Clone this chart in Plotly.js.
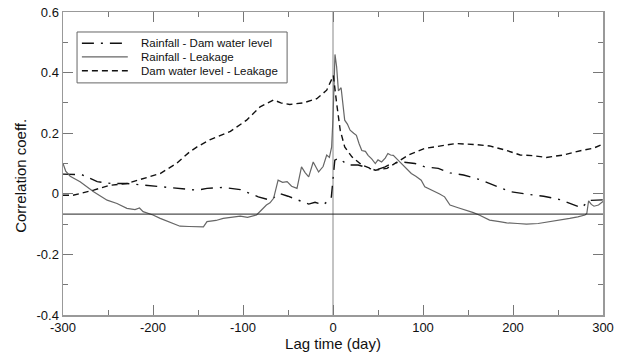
<!DOCTYPE html>
<html>
<head>
<meta charset="utf-8">
<script src="https://cdn.plot.ly/plotly-3.0.1.min.js"></script>
<style>html,body{margin:0;padding:0;background:#fff;}#chart{width:624px;height:358px;}</style>
</head>
<body>
<div id="chart"></div>
<script>
// Rainfall - Dam water level (dash-dot)
const rdLag = [-300,-279,-262,-246,-229,-211,-192,-174,-151,-140,-122,-103,-89,-83,-70,-59,-50,-40,-27,-20,-11,-2,0,2,6,17,28,39,47,58,65,76,91,102,117,130,145,163,182,197,215,234,252,269,276,285,300];
const rdVal = [0.065,0.063,0.040,0.034,0.034,0.029,0.023,0.018,0.012,0.018,0.021,0.014,-0.004,-0.010,-0.021,0.001,-0.008,-0.019,-0.034,-0.028,-0.037,-0.015,0.060,0.111,0.117,0.095,0.095,0.084,0.078,0.089,0.100,0.105,0.100,0.089,0.084,0.069,0.062,0.047,0.025,0.007,-0.001,-0.008,-0.019,-0.037,-0.046,-0.022,-0.020];

// Rainfall - Leakage (solid)
const rlLag = [-300,-297,-292,-281,-266,-251,-240,-229,-220,-215,-211,-200,-192,-180,-170,-160,-152,-144,-140,-130,-122,-112,-103,-95,-85,-80,-74,-70,-66,-61,-56,-51,-46,-40,-35,-31,-27,-22,-16,-11,-7,-4,-1.5,0,1,2.2,4,6,9,11,13,16,19,23,26,29,32,36,39,43,47,50,54,58,61,64,67,72,76,82,87,92,98,102,108,113,118,124,130,139,148,156,163,174,185,193,205,215,228,241,252,263,272,280,282,284,287,290,295,300];
const rlVal = [0.100,0.075,0.058,0.040,0.007,-0.021,-0.032,-0.048,-0.052,-0.047,-0.059,-0.070,-0.081,-0.094,-0.107,-0.108,-0.109,-0.109,-0.092,-0.088,-0.081,-0.078,-0.074,-0.078,-0.070,-0.055,-0.037,-0.030,-0.015,0.045,0.038,0.040,0.025,0.018,0.089,0.070,0.056,0.105,0.072,0.090,0.128,0.120,0.155,0.250,0.380,0.460,0.420,0.340,0.350,0.300,0.243,0.230,0.210,0.200,0.193,0.165,0.143,0.140,0.127,0.115,0.100,0.112,0.105,0.118,0.133,0.128,0.127,0.112,0.100,0.085,0.067,0.058,0.045,0.023,0.015,0.007,0.000,-0.010,-0.037,-0.046,-0.054,-0.062,-0.071,-0.087,-0.092,-0.096,-0.098,-0.100,-0.098,-0.092,-0.088,-0.081,-0.076,-0.070,-0.065,-0.023,-0.035,-0.041,-0.037,-0.025];

// Dam water level - Leakage (dashed)
const dlLag = [-300,-289,-266,-248,-229,-211,-192,-174,-159,-151,-137,-114,-96,-81,-66,-58,-48,-33,-18,-7,-1.5,0.4,4,8,13,21,32,47,60,69,84,102,121,137,160,174,193,208,222,237,256,276,289,300];
const dlVal = [-0.005,-0.005,0.012,0.028,0.034,0.050,0.067,0.100,0.139,0.155,0.178,0.206,0.243,0.287,0.310,0.300,0.295,0.300,0.314,0.342,0.375,0.390,0.300,0.210,0.155,0.122,0.095,0.078,0.084,0.100,0.128,0.150,0.160,0.166,0.162,0.158,0.143,0.128,0.126,0.120,0.128,0.143,0.150,0.164];

const seriesNames = ['Rainfall - Dam water level','Rainfall - Leakage','Dam water level - Leakage'];
const xTickVals = [-300,-200,-100,0,100,200,300];
const yTickVals = [-0.4,-0.2,0,0.2,0.4,0.6];
const yTickText = ['-0.4','-0.2','0','0.2','0.4','0.6'];
const refLevel = -0.067;

const FONT = 'Liberation Sans, Arial, sans-serif';
const lineStyles = [
  {color: '#111', width: 1.4, dash: '12px,7px,2px,7px'},
  {color: '#666', width: 1.2, dash: 'solid'},
  {color: '#111', width: 1.4, dash: '6px,4px'}
];
const xs = [rdLag, rlLag, dlLag], ys = [rdVal, rlVal, dlVal];

const traces = seriesNames.map((n, i) => ({
  x: xs[i], y: ys[i], name: n, mode: 'lines', line: lineStyles[i], showlegend: false
}));

const axisCommon = {
  showgrid: false, zeroline: false, showline: true, linecolor: '#999', linewidth: 1.5,
  mirror: 'ticks', ticks: 'inside', ticklen: 10, tickwidth: 1, tickcolor: '#777',
  tickfont: {family: FONT, size: 13, color: '#111'}
};

// legend box (drawn in paper coordinates)
const legBox = {x0: 0.026, x1: 0.415, y0: 0.766, y1: 0.934};
const legRowY = [0.897, 0.852, 0.806];
const legLineX = [0.035, 0.120];
const legTextX = 0.141;

const shapes = [
  {type: 'line', xref: 'paper', x0: 0, x1: 1, yref: 'y', y0: refLevel, y1: refLevel,
   line: {color: '#222', width: 1}},
  {type: 'line', xref: 'x', x0: 0, x1: 0, yref: 'paper', y0: 0, y1: 1,
   line: {color: '#888', width: 1}, layer: 'below'},
  {type: 'rect', xref: 'paper', yref: 'paper', x0: legBox.x0, x1: legBox.x1, y0: legBox.y0, y1: legBox.y1,
   line: {color: '#666', width: 1}, fillcolor: '#fff', layer: 'above'}
];
const annotations = [
  {xref: 'paper', yref: 'paper', x: -0.078, y: 0.459, xanchor: 'center', yanchor: 'middle',
   textangle: -90, showarrow: false,
   text: 'Correlation coeff.', font: {family: FONT, size: 15, color: '#111'}}
];
seriesNames.forEach((n, i) => {
  shapes.push({type: 'line', xref: 'paper', yref: 'paper', x0: legLineX[0], x1: legLineX[1],
    y0: legRowY[i], y1: legRowY[i], line: lineStyles[i], layer: 'above'});
  annotations.push({xref: 'paper', yref: 'paper', x: legTextX, y: legRowY[i], xanchor: 'left',
    yanchor: 'middle', showarrow: false, text: n, font: {family: FONT, size: 11.5, color: '#111'}});
});

const layout = {
  width: 624, height: 358,
  margin: {l: 63, r: 21, t: 12, b: 43},
  paper_bgcolor: '#fff', plot_bgcolor: '#fff',
  showlegend: false,
  xaxis: Object.assign({}, axisCommon, {
    range: [-300, 300], tickvals: xTickVals, ticktext: xTickVals.map(String),
    minor: {dtick: 50, tick0: 0, ticks: 'inside', ticklen: 5, tickcolor: '#777'},
    title: {text: 'Lag time (day)', standoff: 1, font: {family: FONT, size: 15, color: '#111'}}
  }),
  yaxis: Object.assign({}, axisCommon, {
    range: [-0.4, 0.6], tickvals: yTickVals, ticktext: yTickText,
    minor: {dtick: 0.1, tick0: 0, ticks: 'inside', ticklen: 5, tickcolor: '#777'}
  }),
  shapes: shapes,
  annotations: annotations
};

Plotly.newPlot('chart', traces, layout, {displayModeBar: false, staticPlot: true});
</script>
</body>
</html>
